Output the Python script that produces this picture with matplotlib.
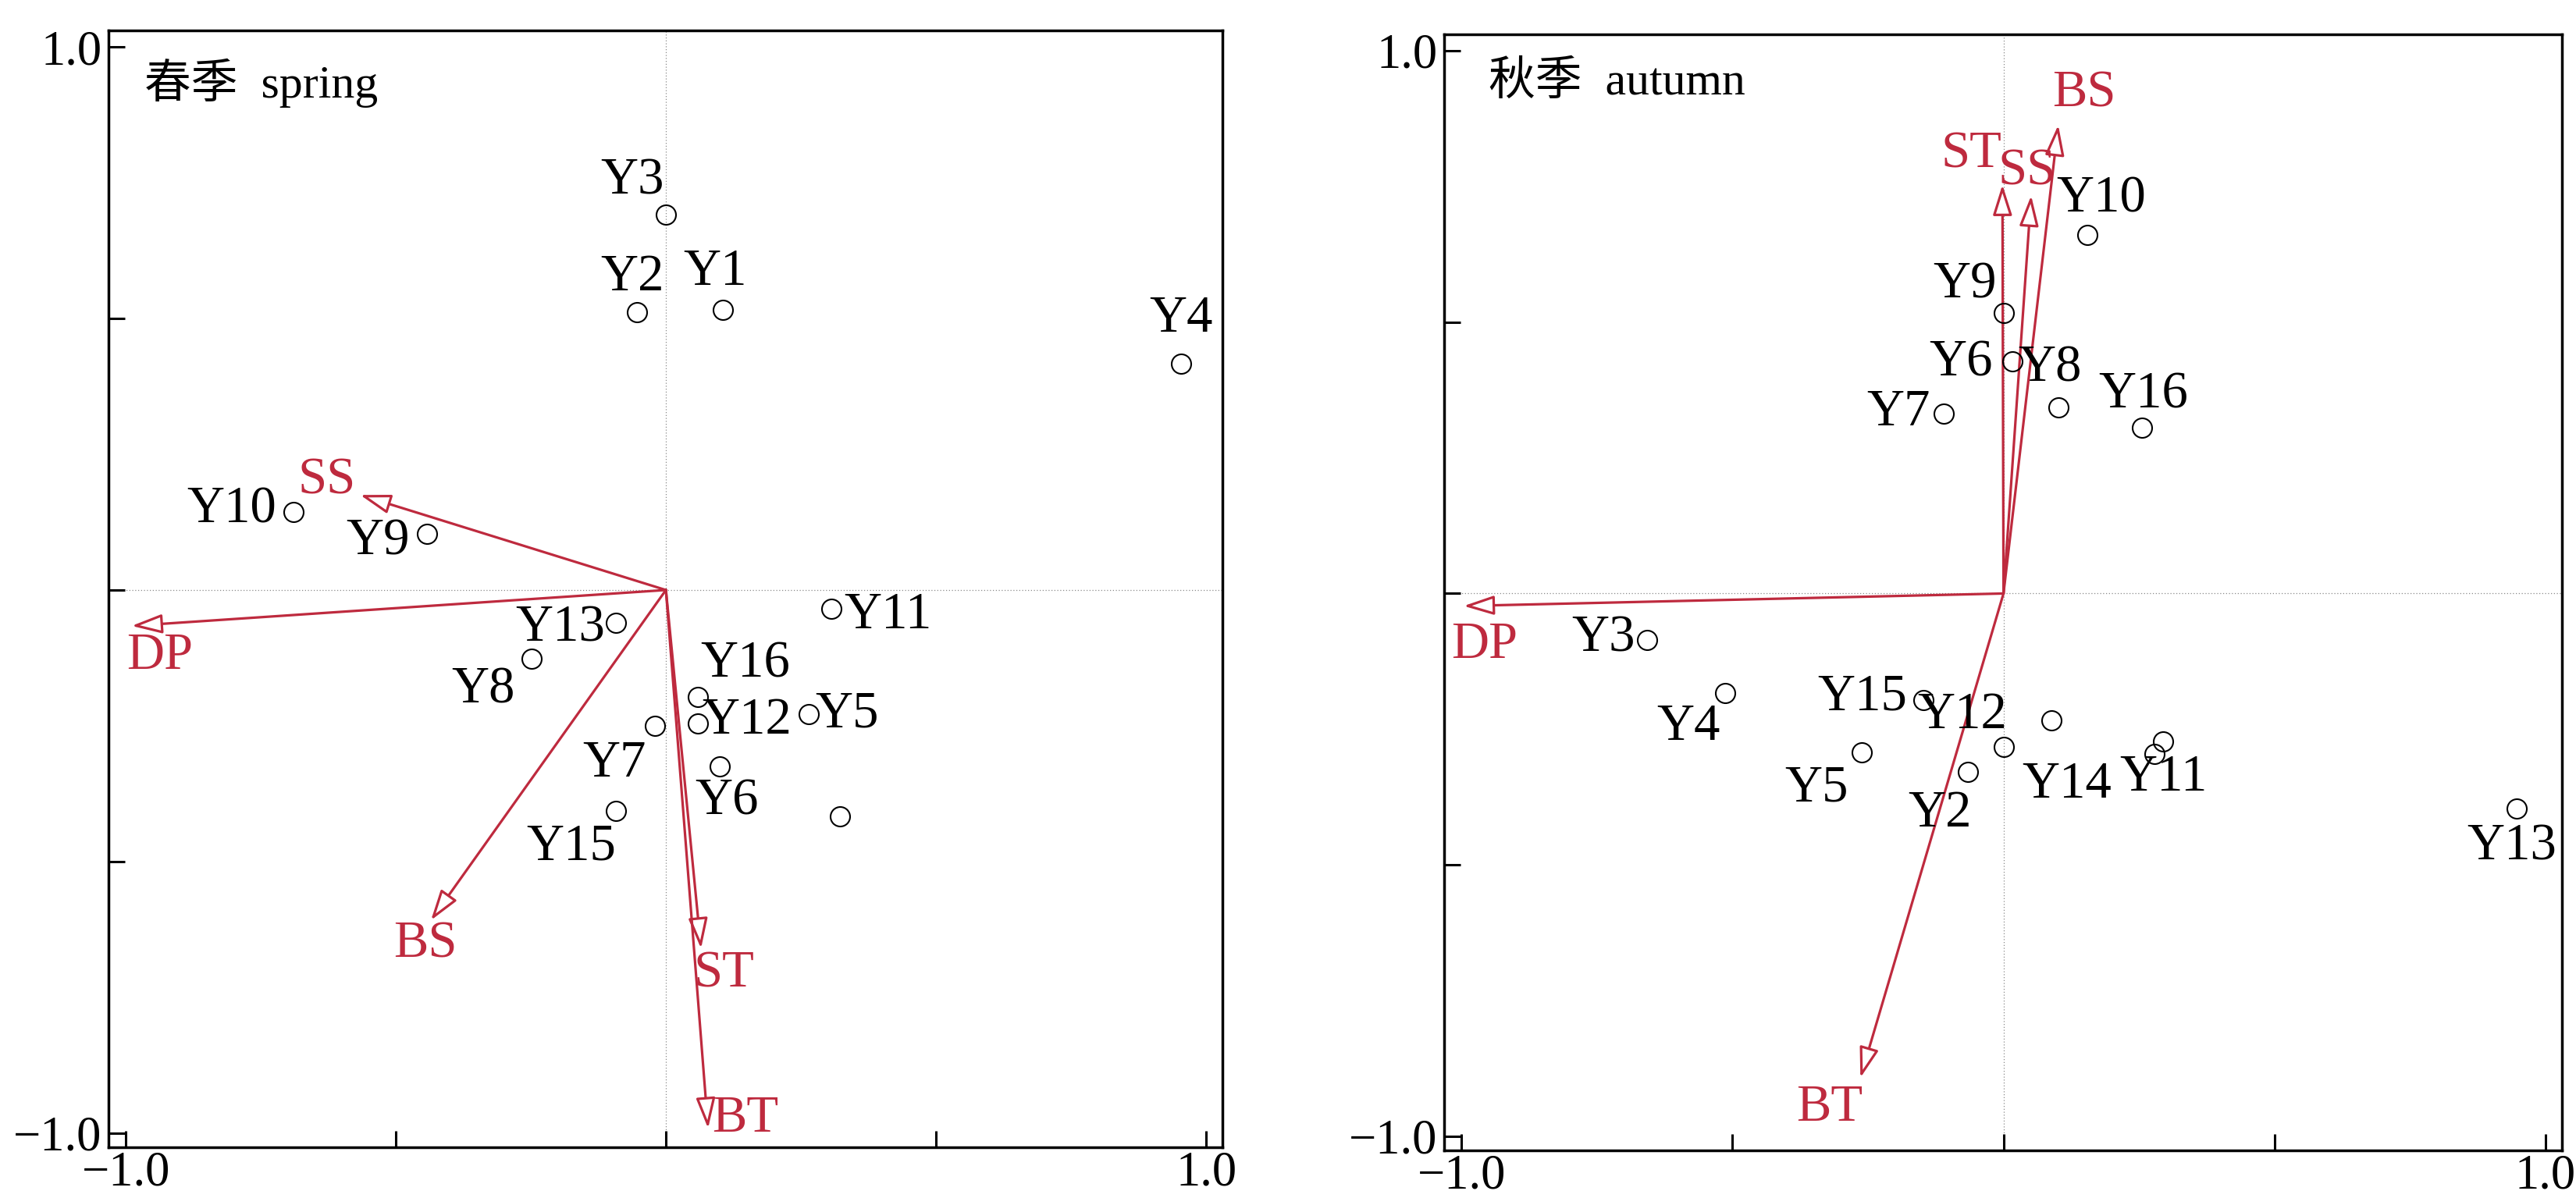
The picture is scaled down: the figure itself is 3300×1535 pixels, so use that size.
import matplotlib
matplotlib.use("Agg")
import matplotlib.pyplot as plt

plt.rcParams['font.family'] = ['Liberation Serif', 'Noto Sans CJK SC']
plt.rcParams['axes.unicode_minus'] = True

# ---------------- data ----------------
# spring
spring_names = ["Y1", "Y2", "Y3", "Y4", "Y5", "Y6", "Y7", "Y8", "Y9", "Y10",
                "Y11", "Y12", "Y13", "Y14", "Y15", "Y16"]
spring_x = [0.106, -0.053, 0.000, 0.954, 0.265, 0.100, -0.020, -0.248, -0.442, -0.689,
            0.306, 0.059, -0.092, 0.322, -0.092, 0.059]
spring_y = [0.516, 0.512, 0.691, 0.417, -0.228, -0.325, -0.250, -0.126, 0.104, 0.144,
            -0.034, -0.245, -0.061, -0.417, -0.407, -0.197]
spring_label_x = [0.091, -0.062, -0.062, 0.953, 0.335, 0.113, -0.095, -0.339, -0.533, -0.804,
                  0.411, 0.149, -0.195, None, -0.175, 0.147]
spring_label_y = [0.585, 0.576, 0.753, 0.499, -0.229, -0.389, -0.320, -0.184, 0.089, 0.148,
                  -0.047, -0.241, -0.070, None, -0.473, -0.136]

spring_env = ["SS", "DP", "BS", "ST", "BT"]
spring_env_x = [-0.566, -0.989, -0.435, 0.065, 0.078]
spring_env_y = [0.175, -0.066, -0.608, -0.660, -0.991]
spring_env_label_x = [-0.628, -0.937, -0.445, 0.107, 0.147]
spring_env_label_y = [0.201, -0.122, -0.652, -0.707, -0.973]

# autumn
autumn_names = ["Y1", "Y2", "Y3", "Y4", "Y5", "Y6", "Y7", "Y8", "Y9", "Y10",
                "Y11", "Y12", "Y13", "Y14", "Y15", "Y16"]
autumn_x = [0.001, -0.065, -0.658, -0.513, -0.261, 0.016, -0.111, 0.101, 0.001, 0.154,
            0.294, 0.089, 0.946, 0.279, -0.148, 0.256]
autumn_y = [-0.283, -0.329, -0.086, -0.184, -0.293, 0.427, 0.332, 0.343, 0.517, 0.661,
            -0.272, -0.234, -0.396, -0.296, -0.197, 0.306]
autumn_label_x = [None, -0.118, -0.738, -0.582, -0.345, -0.078, -0.194, 0.085, -0.072, 0.180,
                  0.295, -0.076, 0.937, 0.117, -0.261, 0.258]
autumn_label_y = [None, -0.405, -0.083, -0.246, -0.359, 0.425, 0.333, 0.414, 0.568, 0.726,
                  -0.339, -0.224, -0.467, -0.352, -0.191, 0.366]

autumn_env = ["ST", "SS", "BS", "DP", "BT"]
autumn_env_x = [-0.002, 0.051, 0.101, -0.996, -0.264]
autumn_env_y = [0.753, 0.733, 0.863, -0.023, -0.892]
autumn_env_label_x = [-0.059, 0.043, 0.148, -0.957, -0.321]
autumn_env_label_y = [0.809, 0.777, 0.921, -0.095, -0.948]

ticks = [-1.0, -0.5, 0.0, 0.5, 1.0]
tick_labels = ["\u22121.0", "", "", "", "1.0"]

# ---------------- style ----------------
RED = '#BE2A3E'
FS_LABEL = 48
FS_TICK = 45
FS_TITLE = 43

fig = plt.figure(figsize=(33, 15.35), dpi=100)
ax1 = fig.add_axes([0.0421, 0.0423, 0.4324, 0.9322])
ax2 = fig.add_axes([0.5606, 0.0397, 0.4339, 0.9316])


def draw(ax, names, px, py, lx, ly, env, ex, ey, elx, ely, title, title_xy):
    ax.set_xlim(-1.032, 1.03)
    ax.set_ylim(-1.026, 1.03)
    ax.axhline(0, color='#8a8a8a', lw=0.9, ls=(0, (1, 2)), zorder=0)
    ax.axvline(0, color='#8a8a8a', lw=0.9, ls=(0, (1, 2)), zorder=0)
    for xe, ye in zip(ex, ey):
        ax.annotate('', xy=(xe, ye), xytext=(0, 0),
                    arrowprops=dict(arrowstyle='-|>,head_length=1.2,head_width=0.38',
                                    mutation_scale=20, fc='white', ec=RED, lw=2.3,
                                    shrinkA=0, shrinkB=0),
                    zorder=2)
    for name, tx, ty in zip(env, elx, ely):
        ax.text(tx, ty, name, color=RED, fontsize=FS_LABEL, ha='center', va='center',
                zorder=3)
    ax.plot(px, py, 'o', ms=18, mfc='none', mec='black', mew=1.5, zorder=4,
            linestyle='none')
    for name, tx, ty in zip(names, lx, ly):
        if tx is None:
            continue
        ax.text(tx, ty, name, color='black', fontsize=FS_LABEL, ha='center', va='center',
                zorder=5)
    ax.text(title_xy[0], title_xy[1], title, fontsize=FS_TITLE, ha='left', va='center',
            color='black', zorder=5)
    ax.set_xticks(ticks)
    ax.set_yticks(ticks)
    ax.set_xticklabels(tick_labels)
    ax.set_yticklabels(tick_labels)
    ax.tick_params(direction='in', length=15, width=2.2, labelsize=FS_TICK, pad=6,
                   top=False, right=False)
    ax.tick_params(axis='x', pad=3)
    for s in ax.spines.values():
        s.set_linewidth(2.5)


draw(ax1, spring_names, spring_x, spring_y, spring_label_x, spring_label_y,
     spring_env, spring_env_x, spring_env_y, spring_env_label_x, spring_env_label_y,
     "春季  spring", (-0.966, 0.934))
draw(ax2, autumn_names, autumn_x, autumn_y, autumn_label_x, autumn_label_y,
     autumn_env, autumn_env_x, autumn_env_y, autumn_env_label_x, autumn_env_label_y,
     "秋季  autumn", (-0.950, 0.941))

fig.savefig('out.png', dpi=100)
